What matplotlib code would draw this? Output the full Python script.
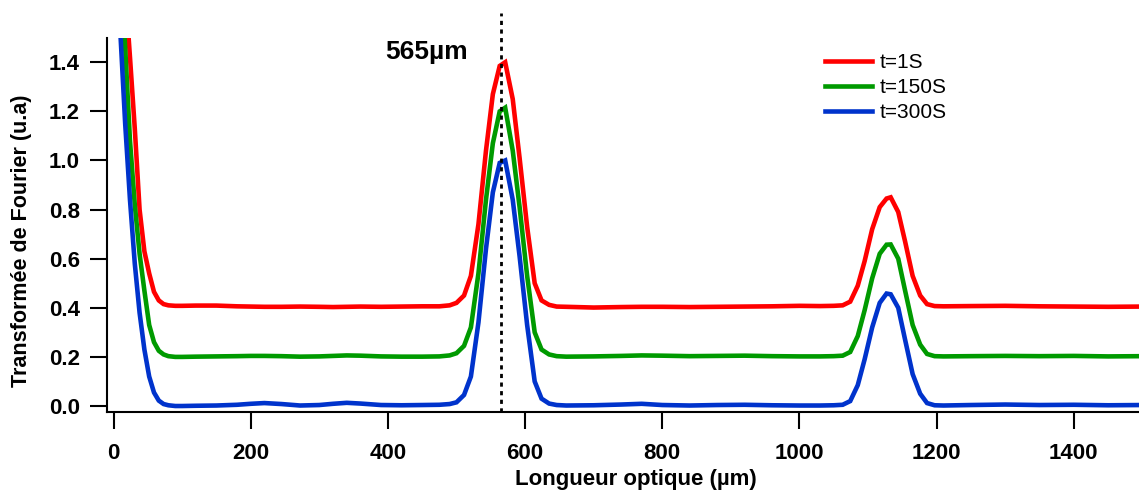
import matplotlib
matplotlib.use("Agg")
import matplotlib.pyplot as plt

plt.rcParams['font.family'] = ['Liberation Sans', 'DejaVu Sans']

# ---- data ----
x_um = [10, 17, 24, 31, 38, 45, 52, 59, 66, 73, 80, 90,
        100, 120, 150, 180, 200, 220, 245, 272, 300, 320, 340, 360, 390, 420, 450, 475,
        490, 500, 511, 521, 532, 543, 553, 563, 571, 582, 592, 603, 614, 624, 635, 646,
        660, 700, 740, 770, 800, 840, 880, 920, 960, 1000, 1030, 1050,
        1063, 1074, 1085, 1095, 1106, 1117, 1127, 1133, 1144, 1154, 1165, 1176, 1186, 1197,
        1210, 1250, 1300, 1350, 1400, 1450, 1500]

t300 = [1.52, 1.15, 0.84, 0.58, 0.38, 0.23, 0.12, 0.055, 0.022, 0.008, 0.003, 0.0,
        0.0, 0.001, 0.002, 0.005, 0.009, 0.012, 0.008, 0.002, 0.004, 0.009, 0.013, 0.010, 0.004, 0.003, 0.004, 0.005,
        0.008, 0.015, 0.045, 0.12, 0.34, 0.64, 0.87, 0.99, 1.00, 0.84, 0.61, 0.33, 0.10, 0.03, 0.010, 0.004,
        0.002, 0.003, 0.006, 0.009, 0.004, 0.002, 0.004, 0.005, 0.003, 0.002, 0.002, 0.003,
        0.005, 0.020, 0.085, 0.19, 0.32, 0.42, 0.458, 0.455, 0.40, 0.27, 0.13, 0.05, 0.012, 0.003,
        0.002, 0.004, 0.006, 0.004, 0.005, 0.003, 0.004]

t150 = [1.80, 1.46, 1.08, 0.82, 0.62, 0.47, 0.33, 0.26, 0.225, 0.21, 0.203, 0.200,
        0.200, 0.201, 0.202, 0.203, 0.204, 0.204, 0.203, 0.201, 0.202, 0.204, 0.206, 0.205, 0.202, 0.201, 0.201, 0.202,
        0.206, 0.215, 0.245, 0.32, 0.54, 0.84, 1.07, 1.20, 1.215, 1.04, 0.81, 0.53, 0.30, 0.23, 0.21, 0.203,
        0.201, 0.202, 0.204, 0.206, 0.205, 0.203, 0.204, 0.205, 0.203, 0.202, 0.202, 0.203,
        0.205, 0.22, 0.285, 0.39, 0.52, 0.62, 0.657, 0.658, 0.60, 0.47, 0.33, 0.25, 0.212, 0.203,
        0.202, 0.203, 0.204, 0.203, 0.204, 0.202, 0.203]

t1 = [2.00, 1.70, 1.42, 1.13, 0.80, 0.63, 0.54, 0.465, 0.43, 0.415, 0.41, 0.408,
      0.408, 0.409, 0.409, 0.406, 0.405, 0.404, 0.404, 0.405, 0.404, 0.403, 0.404, 0.405, 0.404, 0.405, 0.406, 0.406,
      0.41, 0.42, 0.45, 0.53, 0.74, 1.04, 1.27, 1.385, 1.40, 1.25, 1.01, 0.73, 0.50, 0.43, 0.412, 0.405,
      0.404, 0.401, 0.403, 0.404, 0.404, 0.403, 0.404, 0.405, 0.406, 0.408, 0.407, 0.408,
      0.41, 0.425, 0.49, 0.59, 0.72, 0.81, 0.845, 0.85, 0.79, 0.67, 0.53, 0.45, 0.415, 0.407,
      0.406, 0.407, 0.408, 0.406, 0.405, 0.404, 0.405]

series_labels = ['t=1S', 't=150S', 't=300S']
series_colors = ['#FF0000', '#009A00', '#0033CC']
marker_x = 565
marker_text = '565µm'
x_ticks = [0, 200, 400, 600, 800, 1000, 1200, 1400]
y_ticks = [0.0, 0.2, 0.4, 0.6, 0.8, 1.0, 1.2, 1.4]

W, H = 1139, 500
fig = plt.figure(figsize=(W / 100, H / 100), dpi=100)
ax_l, ax_r, ax_b, ax_t = 107, 1139, 412, 37.7
ax = fig.add_axes([ax_l / W, 1 - ax_b / H, (ax_r - ax_l) / W, (ax_b - ax_t) / H])

for y, lab, col in zip([t1, t150, t300], series_labels, series_colors):
    ax.plot(x_um, y, color=col, lw=3.3, label=lab, solid_joinstyle='miter')

ylo, yhi = -0.0244, 1.5
ax.set_xlim(-9.5, 1495)
ax.set_ylim(ylo, yhi)

ax.plot([marker_x, marker_x], [ylo, 1.6], color='black', lw=2.0,
        linestyle=(0, (1.5, 1.6)), clip_on=False)
ax.text(396, 1.412, marker_text, fontsize=19, fontweight='bold', va='baseline', ha='left')

for s in ['top', 'right']:
    ax.spines[s].set_visible(False)
for s in ['left', 'bottom']:
    ax.spines[s].set_linewidth(1.5)

ax.set_xticks(x_ticks)
ax.set_xticklabels([str(v) for v in x_ticks])
ax.set_yticks(y_ticks)
ax.set_yticklabels([f'{v:.1f}' for v in y_ticks])
ax.tick_params(axis='both', direction='out', length=12.5, width=1.5, labelsize=16)
ax.tick_params(axis='x', pad=10)
ax.tick_params(axis='y', pad=7)
for lbl in ax.get_xticklabels() + ax.get_yticklabels():
    lbl.set_fontweight('bold')

ax.set_xlabel('Longueur optique (µm)', fontsize=16, fontweight='bold')
ax.set_ylabel('Transformée de Fourier (u.a)', fontsize=15.5, fontweight='bold')
ax.xaxis.label.set_va('center')
ax.yaxis.label.set_va('center')
ax.xaxis.set_label_coords((636 - ax_l) / (ax_r - ax_l), (ax_b - 479) / (ax_b - ax_t))
ax.yaxis.set_label_coords((22 - ax_l) / (ax_r - ax_l), (ax_b - 241) / (ax_b - ax_t))

leg = ax.legend(loc='upper left', bbox_to_anchor=(825 / W, 1 - 53 / H),
                bbox_transform=fig.transFigure, frameon=False, fontsize=15,
                handlelength=2.26, handletextpad=0.385, labelspacing=0.29,
                borderpad=0, borderaxespad=0)
for line in leg.get_lines():
    line.set_linewidth(3.3)

fig.savefig('out.png', dpi=100)
